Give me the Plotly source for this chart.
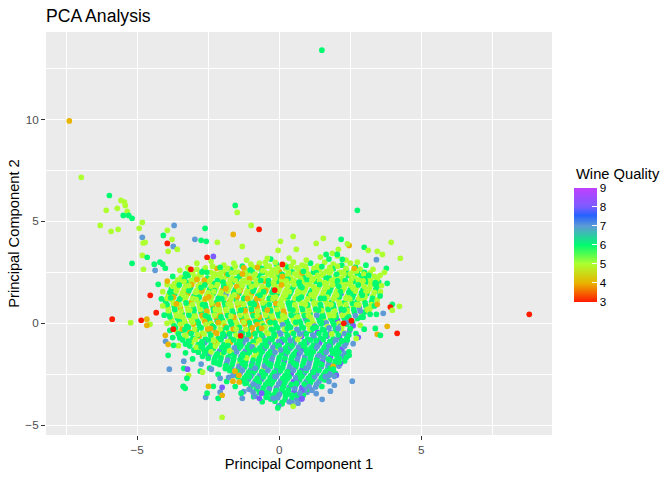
import plotly.graph_objects as go

# PCA scores: (PC1, PC2, quality)
# dense centre of the cloud, top rows first
core_upper = [
    (-1.95, 2.85, 5), (-1.6, 2.95, 5), (-1.3, 2.8, 6), (-1.0, 2.9, 5), (-0.7, 2.95, 5), (-0.45, 2.8, 5),
    (-0.1, 2.9, 6), (0.2, 2.85, 5), (0.5, 3.0, 5), (0.8, 2.85, 5), (1.1, 2.95, 6), (1.35, 2.8, 5),
    (1.6, 3.0, 5), (1.9, 2.9, 5), (2.2, 2.85, 6), (2.5, 2.95, 5),
    (-3.15, 2.55, 5), (-2.9, 2.65, 5), (-2.65, 2.6, 6), (-2.4, 2.5, 5), (-2.2, 2.7, 4), (-1.95, 2.55, 5),
    (-1.7, 2.65, 6), (-1.45, 2.5, 5), (-1.2, 2.62, 5), (-0.95, 2.55, 6), (-0.72, 2.68, 5), (-0.5, 2.5, 5),
    (-0.25, 2.6, 5), (0.0, 2.55, 4), (0.22, 2.68, 5), (0.45, 2.52, 6), (0.7, 2.6, 5), (0.95, 2.66, 5),
    (1.2, 2.5, 6), (1.42, 2.62, 5), (1.65, 2.55, 5), (1.9, 2.68, 6), (2.12, 2.5, 5), (2.35, 2.6, 6),
    (2.6, 2.55, 5), (2.85, 2.65, 5), (3.0, 2.5, 6),
    (-3.45, 2.25, 5), (-3.2, 2.35, 6), (-2.98, 2.28, 5), (-2.75, 2.38, 5), (-2.52, 2.22, 6), (-2.3, 2.32, 5),
    (-2.08, 2.25, 5), (-1.85, 2.36, 4), (-1.62, 2.22, 5), (-1.4, 2.3, 6), (-1.18, 2.38, 5), (-0.95, 2.25, 5),
    (-0.72, 2.32, 6), (-0.5, 2.2, 5), (-0.28, 2.36, 5), (-0.05, 2.25, 6), (0.18, 2.33, 5), (0.4, 2.22, 5),
    (0.62, 2.35, 5), (0.85, 2.26, 6), (1.08, 2.3, 5), (1.3, 2.2, 5), (1.52, 2.36, 5), (1.75, 2.25, 6),
    (1.98, 2.32, 5), (2.2, 2.22, 5), (2.42, 2.35, 6), (2.65, 2.25, 5), (2.88, 2.33, 6), (3.1, 2.22, 5),
    (3.35, 2.3, 5),
    (-3.68, 1.95, 5), (-3.45, 2.05, 5), (-3.22, 1.98, 6), (-3.0, 2.08, 5), (-2.78, 1.92, 5), (-2.55, 2.02, 4),
    (-2.32, 1.95, 6), (-2.1, 2.06, 5), (-1.88, 1.92, 5), (-1.65, 2.02, 6), (-1.42, 1.95, 5), (-1.2, 2.08, 5),
    (-0.98, 1.92, 6), (-0.75, 2.0, 5), (-0.52, 2.07, 4), (-0.3, 1.94, 5), (-0.08, 2.04, 6), (0.15, 1.93, 5),
    (0.38, 2.06, 5), (0.6, 1.95, 6), (0.82, 2.03, 5), (1.05, 1.92, 5), (1.28, 2.05, 6), (1.5, 1.96, 5),
    (1.72, 2.07, 5), (1.95, 1.93, 6), (2.18, 2.02, 5), (2.4, 1.94, 5), (2.62, 2.06, 6), (2.85, 1.95, 5),
    (3.08, 2.03, 6), (3.3, 1.93, 5), (3.5, 2.02, 6),
    (-3.8, 1.68, 6), (-3.58, 1.75, 5), (-3.35, 1.65, 5), (-3.12, 1.76, 6), (-2.9, 1.62, 5), (-2.68, 1.72, 5),
    (-2.45, 1.66, 6), (-2.22, 1.76, 5), (-2.0, 1.63, 4), (-1.78, 1.72, 5), (-1.55, 1.65, 6), (-1.32, 1.77, 5),
    (-1.1, 1.64, 5), (-0.88, 1.73, 6), (-0.65, 1.62, 5), (-0.42, 1.75, 5), (-0.2, 1.66, 6), (0.02, 1.74, 5),
    (0.25, 1.63, 5), (0.48, 1.76, 6), (0.7, 1.65, 5), (0.92, 1.72, 5), (1.15, 1.62, 6), (1.38, 1.75, 5),
    (1.6, 1.66, 5), (1.82, 1.74, 6), (2.05, 1.63, 5), (2.28, 1.73, 5), (2.5, 1.65, 6), (2.72, 1.76, 5),
    (2.95, 1.64, 6), (3.18, 1.72, 5), (3.4, 1.66, 6),
    (-3.9, 1.38, 5), (-3.68, 1.45, 6), (-3.45, 1.35, 5), (-3.22, 1.46, 4), (-3.0, 1.33, 6), (-2.78, 1.44, 5),
    (-2.55, 1.36, 5), (-2.32, 1.47, 6), (-2.1, 1.34, 5), (-1.88, 1.43, 7), (-1.65, 1.35, 5), (-1.42, 1.46, 6),
    (-1.2, 1.33, 5), (-0.98, 1.44, 4), (-0.75, 1.36, 6), (-0.52, 1.47, 5), (-0.3, 1.34, 5), (-0.08, 1.43, 6),
    (0.15, 1.35, 5), (0.38, 1.46, 6), (0.6, 1.33, 5), (0.82, 1.44, 5), (1.05, 1.36, 6), (1.28, 1.47, 5),
    (1.5, 1.34, 5), (1.72, 1.43, 6), (1.95, 1.35, 5), (2.18, 1.46, 7), (2.4, 1.33, 5), (2.62, 1.44, 6),
    (2.85, 1.36, 5), (3.08, 1.45, 6), (3.3, 1.35, 5),
    (-4.0, 1.08, 6), (-3.78, 1.15, 5), (-3.55, 1.05, 6), (-3.32, 1.16, 5), (-3.1, 1.03, 4), (-2.88, 1.14, 6),
    (-2.65, 1.06, 5), (-2.42, 1.17, 5), (-2.2, 1.04, 6), (-1.98, 1.13, 5), (-1.75, 1.05, 4), (-1.52, 1.16, 6),
    (-1.3, 1.03, 5), (-1.08, 1.14, 5), (-0.85, 1.06, 6), (-0.62, 1.17, 4), (-0.4, 1.04, 5), (-0.18, 1.13, 6),
    (0.05, 1.05, 5), (0.28, 1.16, 5), (0.5, 1.03, 6), (0.72, 1.14, 5), (0.95, 1.06, 5), (1.18, 1.17, 6),
    (1.4, 1.04, 5), (1.62, 1.13, 5), (1.85, 1.05, 6), (2.08, 1.16, 5), (2.3, 1.03, 6), (2.52, 1.14, 5),
    (2.75, 1.06, 6), (2.98, 1.15, 5), (3.25, 1.05, 6),
    (-3.92, 0.78, 5), (-3.7, 0.85, 6), (-3.48, 0.75, 4), (-3.25, 0.86, 5), (-3.02, 0.73, 6), (-2.8, 0.84, 5),
    (-2.58, 0.76, 6), (-2.35, 0.87, 4), (-2.12, 0.74, 5), (-1.9, 0.83, 6), (-1.68, 0.75, 5), (-1.45, 0.86, 4),
    (-1.22, 0.73, 6), (-1.0, 0.84, 5), (-0.78, 0.76, 4), (-0.55, 0.87, 6), (-0.32, 0.74, 5), (-0.1, 0.83, 6),
    (0.12, 0.75, 5), (0.35, 0.86, 6), (0.58, 0.73, 5), (0.8, 0.84, 6), (1.02, 0.76, 5), (1.25, 0.87, 5),
    (1.48, 0.74, 6), (1.7, 0.83, 5), (1.92, 0.75, 6), (2.15, 0.86, 5), (2.38, 0.73, 6), (2.6, 0.84, 5),
    (2.82, 0.76, 7), (3.05, 0.85, 6), (3.2, 0.74, 5),
    (-3.88, 0.48, 6), (-3.65, 0.55, 5), (-3.42, 0.45, 6), (-3.2, 0.56, 5), (-2.98, 0.43, 5), (-2.75, 0.54, 6),
    (-2.52, 0.46, 5), (-2.3, 0.57, 6), (-2.08, 0.44, 4), (-1.85, 0.53, 5), (-1.62, 0.45, 6), (-1.4, 0.56, 6),
    (-1.18, 0.43, 5), (-0.95, 0.54, 4), (-0.72, 0.46, 6), (-0.5, 0.57, 5), (-0.28, 0.44, 5), (-0.05, 0.53, 6),
    (0.18, 0.45, 4), (0.4, 0.56, 5), (0.62, 0.43, 6), (0.85, 0.54, 5), (1.08, 0.46, 6), (1.3, 0.57, 5),
    (1.52, 0.44, 6), (1.75, 0.53, 5), (1.98, 0.45, 6), (2.2, 0.56, 7), (2.42, 0.43, 5), (2.65, 0.54, 6),
    (2.9, 0.46, 5), (3.0, 0.55, 6),
    (-3.8, 0.18, 5), (-3.58, 0.25, 6), (-3.35, 0.15, 5), (-3.12, 0.26, 5), (-2.9, 0.13, 6), (-2.68, 0.24, 5),
    (-2.45, 0.16, 6), (-2.22, 0.27, 4), (-2.0, 0.14, 6), (-1.78, 0.23, 5), (-1.55, 0.15, 5), (-1.32, 0.26, 6),
    (-1.1, 0.13, 4), (-0.88, 0.24, 5), (-0.65, 0.16, 6), (-0.42, 0.27, 6), (-0.2, 0.14, 4), (0.02, 0.23, 5),
    (0.25, 0.15, 6), (0.48, 0.26, 5), (0.7, 0.13, 6), (0.92, 0.24, 7), (1.15, 0.16, 5), (1.38, 0.27, 6),
    (1.6, 0.14, 5), (1.82, 0.23, 6), (2.05, 0.15, 8), (2.28, 0.26, 6), (2.5, 0.13, 5), (2.75, 0.24, 6),
]

# second pass over the same area, between the rows above
core_upper_b = [
    (-2.6, 2.72, 5), (-2.35, 2.8, 5), (-2.08, 2.75, 6), (-1.82, 2.7, 5), (-1.55, 2.78, 5), (-1.25, 2.72, 4),
    (-0.95, 2.77, 5), (-0.62, 2.7, 6), (-0.35, 2.8, 5), (-0.05, 2.72, 5), (0.3, 2.76, 6), (0.62, 2.72, 5),
    (0.92, 2.8, 5), (1.22, 2.7, 5), (1.5, 2.78, 6), (1.78, 2.74, 5), (2.05, 2.8, 5), (2.35, 2.7, 5),
    (2.68, 2.76, 6),
    (-3.3, 2.42, 6), (-3.05, 2.48, 5), (-2.8, 2.4, 5), (-2.55, 2.5, 6), (-2.3, 2.43, 5), (-2.05, 2.47, 5),
    (-1.8, 2.4, 6), (-1.55, 2.5, 5), (-1.3, 2.42, 4), (-1.08, 2.48, 5), (-0.85, 2.41, 5), (-0.6, 2.49, 6),
    (-0.38, 2.42, 5), (-0.12, 2.48, 5), (0.1, 2.4, 6), (0.33, 2.5, 5), (0.55, 2.43, 5), (0.8, 2.47, 4),
    (1.02, 2.41, 5), (1.3, 2.49, 6), (1.55, 2.42, 5), (1.78, 2.48, 5), (2.02, 2.4, 6), (2.25, 2.5, 5),
    (2.5, 2.43, 5), (2.75, 2.47, 6), (2.98, 2.41, 5), (3.2, 2.48, 5),
    (-3.58, 2.12, 5), (-3.33, 2.18, 6), (-3.1, 2.1, 5), (-2.87, 2.2, 5), (-2.64, 2.12, 4), (-2.4, 2.18, 5),
    (-2.18, 2.1, 6), (-1.95, 2.2, 5), (-1.73, 2.12, 5), (-1.5, 2.17, 6), (-1.28, 2.1, 5), (-1.05, 2.19, 4),
    (-0.82, 2.12, 5), (-0.6, 2.18, 5), (-0.38, 2.1, 6), (-0.15, 2.2, 5), (0.08, 2.12, 5), (0.3, 2.18, 6),
    (0.52, 2.1, 5), (0.75, 2.19, 5), (0.98, 2.12, 6), (1.2, 2.18, 5), (1.42, 2.1, 5), (1.65, 2.2, 6),
    (1.88, 2.12, 5), (2.1, 2.17, 5), (2.32, 2.1, 6), (2.55, 2.19, 5), (2.78, 2.12, 5), (3.0, 2.18, 6),
    (3.22, 2.1, 5), (3.45, 2.17, 5),
    (-3.75, 1.82, 5), (-3.52, 1.88, 6), (-3.3, 1.8, 5), (-3.08, 1.9, 4), (-2.85, 1.82, 5), (-2.62, 1.88, 6),
    (-2.4, 1.8, 5), (-2.18, 1.9, 5), (-1.95, 1.82, 6), (-1.72, 1.88, 5), (-1.5, 1.8, 4), (-1.28, 1.9, 5),
    (-1.05, 1.82, 6), (-0.82, 1.88, 5), (-0.6, 1.8, 5), (-0.38, 1.9, 6), (-0.15, 1.82, 5), (0.08, 1.88, 4),
    (0.3, 1.8, 5), (0.52, 1.9, 5), (0.75, 1.82, 6), (0.98, 1.88, 5), (1.2, 1.8, 5), (1.42, 1.9, 6),
    (1.65, 1.82, 5), (1.88, 1.88, 5), (2.1, 1.8, 6), (2.32, 1.9, 5), (2.55, 1.82, 5), (2.78, 1.88, 6),
    (3.0, 1.8, 5), (3.22, 1.9, 5), (3.45, 1.82, 6),
    (-3.85, 1.52, 6), (-3.62, 1.58, 5), (-3.4, 1.5, 5), (-3.18, 1.6, 6), (-2.95, 1.52, 5), (-2.72, 1.58, 4),
    (-2.5, 1.5, 5), (-2.28, 1.6, 6), (-2.05, 1.52, 5), (-1.82, 1.58, 5), (-1.6, 1.5, 6), (-1.38, 1.6, 4),
    (-1.15, 1.52, 5), (-0.92, 1.58, 6), (-0.7, 1.5, 5), (-0.48, 1.6, 4), (-0.25, 1.52, 6), (-0.02, 1.58, 5),
    (0.2, 1.5, 5), (0.42, 1.6, 6), (0.65, 1.52, 5), (0.88, 1.58, 5), (1.1, 1.5, 6), (1.32, 1.6, 5),
    (1.55, 1.52, 5), (1.78, 1.58, 6), (2.0, 1.5, 5), (2.22, 1.6, 5), (2.45, 1.52, 6), (2.68, 1.58, 5),
    (2.9, 1.5, 6), (3.12, 1.6, 5), (3.35, 1.52, 5),
    (-3.95, 1.22, 5), (-3.72, 1.28, 4), (-3.5, 1.2, 6), (-3.28, 1.3, 5), (-3.05, 1.22, 5), (-2.82, 1.28, 6),
    (-2.6, 1.2, 4), (-2.38, 1.3, 5), (-2.15, 1.22, 6), (-1.92, 1.28, 5), (-1.7, 1.2, 5), (-1.48, 1.3, 4),
    (-1.25, 1.22, 6), (-1.02, 1.28, 5), (-0.8, 1.2, 4), (-0.58, 1.3, 5), (-0.35, 1.22, 6), (-0.12, 1.28, 5),
    (0.1, 1.2, 5), (0.32, 1.3, 6), (0.55, 1.22, 5), (0.78, 1.28, 6), (1.0, 1.2, 5), (1.22, 1.3, 5),
    (1.45, 1.22, 6), (1.68, 1.28, 5), (1.9, 1.2, 5), (2.12, 1.3, 6), (2.35, 1.22, 5), (2.58, 1.28, 6),
    (2.8, 1.2, 5), (3.02, 1.3, 5), (3.28, 1.22, 6),
    (-3.95, 0.92, 6), (-3.72, 0.98, 5), (-3.5, 0.9, 5), (-3.28, 1.0, 6), (-3.05, 0.92, 5), (-2.82, 0.98, 5),
    (-2.6, 0.9, 6), (-2.38, 1.0, 5), (-2.15, 0.92, 4), (-1.92, 0.98, 6), (-1.7, 0.9, 5), (-1.48, 1.0, 5),
    (-1.25, 0.92, 5), (-1.02, 0.98, 6), (-0.8, 0.9, 4), (-0.58, 1.0, 5), (-0.35, 0.92, 6), (-0.12, 0.98, 4),
    (0.1, 0.9, 5), (0.32, 1.0, 6), (0.55, 0.92, 5), (0.78, 0.98, 5), (1.0, 0.9, 6), (1.22, 1.0, 5),
    (1.45, 0.92, 6), (1.68, 0.98, 5), (1.9, 0.9, 6), (2.12, 1.0, 5), (2.35, 0.92, 5), (2.58, 0.98, 6),
    (2.8, 0.9, 5), (3.02, 1.0, 6), (3.25, 0.92, 5),
    (-3.9, 0.62, 5), (-3.68, 0.68, 6), (-3.45, 0.6, 5), (-3.22, 0.7, 5), (-3.0, 0.62, 6), (-2.78, 0.68, 5),
    (-2.55, 0.6, 4), (-2.32, 0.7, 6), (-2.1, 0.62, 5), (-1.88, 0.68, 5), (-1.65, 0.6, 6), (-1.42, 0.7, 5),
    (-1.2, 0.62, 4), (-0.98, 0.68, 6), (-0.75, 0.6, 5), (-0.52, 0.7, 6), (-0.3, 0.62, 6), (-0.08, 0.68, 5),
    (0.15, 0.6, 4), (0.38, 0.7, 6), (0.6, 0.62, 5), (0.82, 0.68, 6), (1.05, 0.6, 5), (1.28, 0.7, 6),
    (1.5, 0.62, 5), (1.72, 0.68, 6), (1.95, 0.6, 5), (2.18, 0.7, 6), (2.4, 0.62, 5), (2.62, 0.68, 6),
    (2.85, 0.6, 7), (3.1, 0.68, 5),
    (-3.85, 0.32, 6), (-3.62, 0.38, 5), (-3.4, 0.3, 5), (-3.18, 0.4, 6), (-2.95, 0.32, 5), (-2.72, 0.38, 4),
    (-2.5, 0.3, 6), (-2.28, 0.4, 5), (-2.05, 0.32, 6), (-1.82, 0.38, 6), (-1.6, 0.3, 4), (-1.38, 0.4, 5),
    (-1.15, 0.32, 5), (-0.92, 0.38, 6), (-0.7, 0.3, 4), (-0.48, 0.4, 5), (-0.25, 0.32, 5), (-0.02, 0.38, 6),
    (0.2, 0.3, 5), (0.42, 0.4, 6), (0.65, 0.32, 5), (0.88, 0.38, 6), (1.1, 0.3, 5), (1.32, 0.4, 7),
    (1.55, 0.32, 6), (1.78, 0.38, 5), (2.0, 0.3, 6), (2.22, 0.4, 5), (2.45, 0.32, 6), (2.68, 0.38, 7),
    (2.9, 0.3, 6),
    (-3.75, 0.02, 5), (-3.52, 0.08, 6), (-3.3, 0.0, 5), (-3.08, 0.1, 5), (-2.85, 0.02, 6), (-2.62, 0.08, 4),
    (-2.4, 0.0, 5), (-2.18, 0.1, 6), (-1.95, 0.02, 5), (-1.72, 0.08, 6), (-1.5, 0.0, 5), (-1.28, 0.1, 4),
    (-1.05, 0.02, 6), (-0.82, 0.08, 6), (-0.6, 0.0, 5), (-0.38, 0.1, 4), (-0.15, 0.02, 6), (0.08, 0.08, 5),
    (0.3, 0.0, 6), (0.52, 0.1, 5), (0.75, 0.02, 6), (0.98, 0.08, 6), (1.2, 0.0, 5), (1.42, 0.1, 6),
    (1.65, 0.02, 7), (1.88, 0.08, 6), (2.1, 0.0, 5), (2.32, 0.1, 6), (2.58, 0.02, 6),
]

core_lower = [
    (-3.7, -0.12, 6), (-3.48, -0.05, 5), (-3.25, -0.15, 6), (-3.02, -0.04, 4), (-2.8, -0.17, 6), (-2.58, -0.06, 5),
    (-2.35, -0.14, 6), (-2.12, -0.03, 5), (-1.9, -0.16, 4), (-1.68, -0.07, 6), (-1.45, -0.15, 5), (-1.22, -0.04, 4),
    (-1.0, -0.17, 6), (-0.78, -0.06, 4), (-0.55, -0.14, 6), (-0.32, -0.03, 5), (-0.1, -0.16, 6), (0.12, -0.07, 7),
    (0.35, -0.15, 6), (0.58, -0.04, 5), (0.8, -0.17, 6), (1.02, -0.06, 5), (1.25, -0.14, 7), (1.48, -0.03, 6),
    (1.7, -0.16, 5), (1.92, -0.07, 6), (2.15, -0.15, 7), (2.38, -0.04, 6), (2.6, -0.12, 8),
    (-3.6, -0.42, 5), (-3.38, -0.35, 6), (-3.15, -0.45, 4), (-2.92, -0.34, 6), (-2.7, -0.47, 5), (-2.48, -0.36, 6),
    (-2.25, -0.44, 4), (-2.02, -0.33, 6), (-1.8, -0.46, 5), (-1.58, -0.37, 6), (-1.35, -0.45, 7), (-1.12, -0.34, 6),
    (-0.9, -0.47, 4), (-0.68, -0.36, 6), (-0.45, -0.44, 5), (-0.22, -0.33, 6), (0.0, -0.46, 7), (0.22, -0.37, 6),
    (0.45, -0.45, 5), (0.68, -0.34, 6), (0.9, -0.47, 7), (1.12, -0.36, 6), (1.35, -0.44, 8), (1.58, -0.33, 6),
    (1.8, -0.46, 7), (2.02, -0.37, 6), (2.25, -0.45, 5), (2.48, -0.35, 7),
    (-3.5, -0.72, 6), (-3.28, -0.65, 5), (-3.05, -0.75, 6), (-2.82, -0.64, 4), (-2.6, -0.77, 6), (-2.38, -0.66, 5),
    (-2.15, -0.74, 6), (-1.92, -0.63, 7), (-1.7, -0.76, 6), (-1.48, -0.67, 5), (-1.25, -0.75, 6), (-1.02, -0.64, 4),
    (-0.8, -0.77, 6), (-0.58, -0.66, 7), (-0.35, -0.74, 6), (-0.12, -0.63, 5), (0.1, -0.76, 6), (0.32, -0.67, 7),
    (0.55, -0.75, 6), (0.78, -0.64, 8), (1.0, -0.77, 6), (1.22, -0.66, 7), (1.45, -0.74, 6), (1.68, -0.63, 7),
    (1.9, -0.76, 6), (2.12, -0.67, 8), (2.38, -0.72, 6),
    (-3.3, -1.02, 6), (-3.08, -0.95, 5), (-2.85, -1.05, 6), (-2.62, -0.94, 7), (-2.4, -1.07, 6), (-2.18, -0.96, 5),
    (-1.95, -1.04, 6), (-1.72, -0.93, 4), (-1.5, -1.06, 6), (-1.28, -0.97, 7), (-1.05, -1.05, 6), (-0.82, -0.94, 5),
    (-0.6, -1.07, 6), (-0.38, -0.96, 7), (-0.15, -1.04, 6), (0.08, -0.93, 8), (0.3, -1.06, 6), (0.52, -0.97, 7),
    (0.75, -1.05, 6), (0.98, -0.94, 7), (1.2, -1.07, 6), (1.42, -0.96, 8), (1.65, -1.04, 6), (1.88, -0.93, 7),
    (2.1, -1.06, 6), (2.35, -0.98, 7),
    (-3.0, -1.32, 6), (-2.78, -1.25, 5), (-2.55, -1.35, 6), (-2.32, -1.24, 6), (-2.1, -1.37, 7), (-1.88, -1.26, 6),
    (-1.65, -1.34, 5), (-1.42, -1.23, 6), (-1.2, -1.36, 7), (-0.98, -1.27, 6), (-0.75, -1.35, 6), (-0.52, -1.24, 7),
    (-0.3, -1.37, 6), (-0.08, -1.26, 5), (0.15, -1.34, 6), (0.38, -1.23, 7), (0.6, -1.36, 6), (0.82, -1.27, 8),
    (1.05, -1.35, 6), (1.28, -1.24, 7), (1.5, -1.37, 6), (1.72, -1.26, 7), (1.95, -1.34, 6), (2.2, -1.28, 8),
    (-2.7, -1.62, 6), (-2.48, -1.55, 7), (-2.25, -1.65, 6), (-2.02, -1.54, 5), (-1.8, -1.67, 6), (-1.58, -1.56, 6),
    (-1.35, -1.64, 7), (-1.12, -1.53, 6), (-0.9, -1.66, 5), (-0.68, -1.57, 6), (-0.45, -1.65, 7), (-0.22, -1.54, 6),
    (0.0, -1.67, 6), (0.22, -1.56, 7), (0.45, -1.64, 6), (0.68, -1.53, 8), (0.9, -1.66, 7), (1.12, -1.57, 6),
    (1.35, -1.65, 7), (1.58, -1.54, 6), (1.8, -1.67, 8), (2.02, -1.56, 6), (2.2, -1.63, 7),
    (-2.3, -1.92, 6), (-2.08, -1.85, 6), (-1.85, -1.95, 7), (-1.62, -1.84, 6), (-1.4, -1.97, 5), (-1.18, -1.86, 6),
    (-0.95, -1.94, 7), (-0.72, -1.83, 6), (-0.5, -1.96, 6), (-0.28, -1.87, 7), (-0.05, -1.95, 6), (0.18, -1.84, 8),
    (0.4, -1.97, 6), (0.62, -1.86, 7), (0.85, -1.94, 6), (1.08, -1.83, 7), (1.3, -1.96, 6), (1.52, -1.87, 8),
    (1.75, -1.95, 7), (1.98, -1.85, 6),
    (-1.9, -2.22, 6), (-1.68, -2.15, 7), (-1.45, -2.25, 6), (-1.22, -2.14, 6), (-1.0, -2.27, 7), (-0.78, -2.16, 6),
    (-0.55, -2.24, 5), (-0.32, -2.13, 6), (-0.1, -2.26, 7), (0.12, -2.17, 6), (0.35, -2.25, 7), (0.58, -2.14, 6),
    (0.8, -2.27, 8), (1.02, -2.16, 7), (1.25, -2.24, 6), (1.48, -2.13, 7), (1.7, -2.26, 6), (1.9, -2.18, 7),
    (-1.6, -2.52, 6), (-1.38, -2.45, 7), (-1.15, -2.55, 6), (-0.92, -2.44, 6), (-0.7, -2.57, 7), (-0.48, -2.46, 6),
    (-0.25, -2.54, 6), (-0.02, -2.43, 7), (0.2, -2.56, 6), (0.42, -2.47, 8), (0.65, -2.55, 6), (0.88, -2.44, 7),
    (1.1, -2.57, 6), (1.32, -2.46, 7), (1.55, -2.54, 6), (1.78, -2.48, 7),
    (-1.3, -2.82, 6), (-1.08, -2.75, 7), (-0.85, -2.85, 6), (-0.62, -2.74, 7), (-0.4, -2.87, 6), (-0.18, -2.76, 6),
    (0.05, -2.84, 7), (0.28, -2.73, 6), (0.5, -2.86, 8), (0.72, -2.77, 6), (0.95, -2.85, 7), (1.18, -2.74, 6),
    (1.4, -2.86, 7), (1.6, -2.78, 6),
    (-1.0, -3.12, 6), (-0.78, -3.05, 7), (-0.55, -3.15, 6), (-0.32, -3.04, 6), (-0.1, -3.17, 7), (0.12, -3.06, 6),
    (0.35, -3.14, 7), (0.58, -3.03, 6), (0.8, -3.16, 8), (1.02, -3.07, 6), (1.28, -3.12, 7),
    (-0.6, -3.42, 7), (-0.38, -3.35, 6), (-0.15, -3.45, 6), (0.08, -3.34, 7), (0.3, -3.47, 6), (0.52, -3.36, 8),
    (0.75, -3.44, 6), (0.98, -3.38, 7),
    (-0.3, -3.72, 6), (-0.05, -3.65, 7), (0.2, -3.75, 6), (0.45, -3.68, 6), (0.62, -3.74, 7),
]

core_lower_b = [
    (-3.65, -0.22, 6), (-3.42, -0.28, 4), (-3.2, -0.2, 6), (-2.98, -0.3, 5), (-2.75, -0.22, 6), (-2.52, -0.28, 4),
    (-2.3, -0.2, 6), (-2.08, -0.3, 5), (-1.85, -0.22, 6), (-1.62, -0.28, 4), (-1.4, -0.2, 6), (-1.18, -0.3, 5),
    (-0.95, -0.22, 4), (-0.72, -0.28, 6), (-0.5, -0.2, 5), (-0.28, -0.3, 6), (-0.05, -0.22, 6), (0.18, -0.28, 5),
    (0.4, -0.2, 6), (0.62, -0.3, 7), (0.85, -0.22, 6), (1.08, -0.28, 5), (1.3, -0.2, 6), (1.52, -0.3, 6),
    (1.75, -0.22, 7), (1.98, -0.28, 6), (2.2, -0.2, 5), (2.5, -0.26, 6),
    (-3.55, -0.52, 6), (-3.32, -0.58, 5), (-3.1, -0.5, 6), (-2.88, -0.6, 6), (-2.65, -0.52, 5), (-2.42, -0.58, 6),
    (-2.2, -0.5, 4), (-1.98, -0.6, 6), (-1.75, -0.52, 6), (-1.52, -0.58, 5), (-1.3, -0.5, 6), (-1.08, -0.6, 4),
    (-0.85, -0.52, 6), (-0.62, -0.58, 6), (-0.4, -0.5, 5), (-0.18, -0.6, 6), (0.05, -0.52, 7), (0.28, -0.58, 6),
    (0.5, -0.5, 6), (0.72, -0.6, 5), (0.95, -0.52, 6), (1.18, -0.58, 7), (1.4, -0.5, 6), (1.62, -0.6, 6),
    (1.85, -0.52, 5), (2.08, -0.58, 6), (2.3, -0.5, 7), (2.45, -0.58, 6),
    (-3.4, -0.82, 6), (-3.18, -0.88, 6), (-2.95, -0.8, 5), (-2.72, -0.9, 6), (-2.5, -0.82, 6), (-2.28, -0.88, 4),
    (-2.05, -0.8, 6), (-1.82, -0.9, 5), (-1.6, -0.82, 6), (-1.38, -0.88, 6), (-1.15, -0.8, 7), (-0.92, -0.9, 6),
    (-0.7, -0.82, 5), (-0.48, -0.88, 6), (-0.25, -0.8, 6), (-0.02, -0.9, 7), (0.2, -0.82, 6), (0.42, -0.88, 6),
    (0.65, -0.8, 5), (0.88, -0.9, 6), (1.1, -0.82, 6), (1.32, -0.88, 7), (1.55, -0.8, 6), (1.78, -0.9, 6),
    (2.0, -0.82, 7), (2.22, -0.88, 6), (2.4, -0.82, 6),
    (-3.15, -1.12, 6), (-2.92, -1.18, 5), (-2.7, -1.1, 6), (-2.48, -1.2, 6), (-2.25, -1.12, 5), (-2.02, -1.18, 6),
    (-1.8, -1.1, 6), (-1.58, -1.2, 7), (-1.35, -1.12, 6), (-1.12, -1.18, 6), (-0.9, -1.1, 5), (-0.68, -1.2, 6),
    (-0.45, -1.12, 6), (-0.22, -1.18, 7), (0.0, -1.1, 6), (0.22, -1.2, 6), (0.45, -1.12, 6), (0.68, -1.18, 7),
    (0.9, -1.1, 6), (1.12, -1.2, 6), (1.35, -1.12, 7), (1.58, -1.18, 6), (1.8, -1.1, 6), (2.02, -1.2, 6),
    (2.3, -1.12, 7),
    (-2.85, -1.42, 6), (-2.62, -1.48, 6), (-2.4, -1.4, 5), (-2.18, -1.5, 6), (-1.95, -1.42, 6), (-1.72, -1.48, 6),
    (-1.5, -1.4, 7), (-1.28, -1.5, 6), (-1.05, -1.42, 6), (-0.82, -1.48, 5), (-0.6, -1.4, 6), (-0.38, -1.5, 6),
    (-0.15, -1.42, 7), (0.08, -1.48, 6), (0.3, -1.4, 6), (0.52, -1.5, 6), (0.75, -1.42, 7), (0.98, -1.48, 6),
    (1.2, -1.4, 6), (1.42, -1.5, 6), (1.65, -1.42, 7), (1.88, -1.48, 6), (2.1, -1.4, 6), (2.3, -1.48, 7),
    (-2.5, -1.72, 6), (-2.28, -1.78, 6), (-2.05, -1.7, 6), (-1.82, -1.8, 7), (-1.6, -1.72, 6), (-1.38, -1.78, 6),
    (-1.15, -1.7, 5), (-0.92, -1.8, 6), (-0.7, -1.72, 6), (-0.48, -1.78, 6), (-0.25, -1.7, 7), (-0.02, -1.8, 6),
    (0.2, -1.72, 6), (0.42, -1.78, 6), (0.65, -1.7, 7), (0.88, -1.8, 6), (1.1, -1.72, 6), (1.32, -1.78, 6),
    (1.55, -1.7, 7), (1.78, -1.8, 6), (2.05, -1.72, 6),
    (-2.1, -2.02, 6), (-1.88, -2.08, 6), (-1.65, -2.0, 6), (-1.42, -2.1, 7), (-1.2, -2.02, 6), (-0.98, -2.08, 6),
    (-0.75, -2.0, 6), (-0.52, -2.1, 7), (-0.3, -2.02, 6), (-0.08, -2.08, 6), (0.15, -2.0, 6), (0.38, -2.1, 7),
    (0.6, -2.02, 6), (0.82, -2.08, 6), (1.05, -2.0, 7), (1.28, -2.1, 6), (1.5, -2.02, 6), (1.72, -2.08, 7),
    (1.95, -2.02, 6),
    (-1.75, -2.32, 6), (-1.52, -2.38, 6), (-1.3, -2.3, 7), (-1.08, -2.4, 6), (-0.85, -2.32, 6), (-0.62, -2.38, 6),
    (-0.4, -2.3, 7), (-0.18, -2.4, 6), (0.05, -2.32, 6), (0.28, -2.38, 6), (0.5, -2.3, 7), (0.72, -2.4, 6),
    (0.95, -2.32, 6), (1.18, -2.38, 7), (1.4, -2.3, 6), (1.62, -2.4, 6), (1.85, -2.34, 7),
    (-1.45, -2.62, 6), (-1.22, -2.68, 6), (-1.0, -2.6, 7), (-0.78, -2.7, 6), (-0.55, -2.62, 6), (-0.32, -2.68, 6),
    (-0.1, -2.6, 7), (0.12, -2.7, 6), (0.35, -2.62, 6), (0.58, -2.68, 7), (0.8, -2.6, 6), (1.02, -2.7, 6),
    (1.25, -2.62, 7), (1.48, -2.68, 6), (1.7, -2.62, 6),
    (-1.15, -2.92, 6), (-0.92, -2.98, 7), (-0.7, -2.9, 6), (-0.48, -3.0, 6), (-0.25, -2.92, 6), (-0.02, -2.98, 7),
    (0.2, -2.9, 6), (0.42, -3.0, 6), (0.65, -2.92, 7), (0.88, -2.98, 6), (1.1, -2.9, 6), (1.32, -2.98, 7),
    (-0.8, -3.22, 6), (-0.58, -3.28, 6), (-0.35, -3.2, 7), (-0.12, -3.3, 6), (0.1, -3.22, 6), (0.32, -3.28, 6),
    (0.55, -3.2, 7), (0.78, -3.3, 6), (1.0, -3.22, 6), (1.15, -3.28, 7),
    (-0.45, -3.52, 6), (-0.22, -3.58, 6), (0.0, -3.5, 7), (0.22, -3.6, 6), (0.45, -3.52, 6), (0.68, -3.58, 7),
    (0.85, -3.52, 6),
    (-0.15, -3.82, 6), (0.1, -3.88, 6), (0.35, -3.85, 7),
]

# ragged rim of the cloud and points filling the gaps left by the rows
core_fill = [
    (-2.9, 2.95, 5), (-2.4, 3.05, 5), (-1.15, 3.1, 5), (-0.3, 3.15, 6), (0.35, 3.2, 5), (0.95, 3.1, 5),
    (1.45, 3.25, 5), (1.75, 3.15, 6), (2.05, 3.3, 5), (2.35, 3.1, 5), (2.75, 3.0, 5), (3.05, 2.85, 6),
    (3.3, 2.65, 5), (3.55, 2.35, 5), (-3.5, 2.6, 5), (-3.75, 2.3, 6), (-3.95, 1.9, 5), (-4.1, 1.55, 5),
    (-4.15, 1.2, 6), (-4.1, 0.85, 5), (-4.05, 0.4, 6), (-3.95, 0.0, 5), (-3.85, -0.35, 6), (-3.75, -0.7, 6),
    (-3.55, -1.1, 5), (-3.3, -1.45, 6), (-3.05, -1.75, 6), (-2.75, -2.0, 7), (-2.45, -2.2, 6), (-2.15, -2.5, 6),
    (-1.85, -2.85, 6), (-1.55, -3.1, 6), (-1.25, -3.35, 7), (-0.9, -3.6, 6), (-0.6, -3.85, 6), (1.3, -3.45, 7),
    (1.5, -3.1, 6), (1.75, -2.85, 7), (1.98, -2.45, 6), (2.1, -2.1, 7), (2.3, -1.85, 6), (2.45, -1.4, 6),
    (2.6, -1.0, 7), (2.7, -0.5, 6), (2.85, -0.1, 5), (2.95, 0.3, 6), (3.15, 0.6, 5), (3.35, 0.85, 6),
    (3.45, 1.15, 5), (3.55, 1.5, 6), (3.6, 1.85, 5),
    (-3.22, 2.72, 5), (-2.72, 2.52, 6), (-2.22, 2.4, 5), (-1.68, 2.48, 5), (-1.02, 2.62, 6), (-0.58, 2.58, 5),
    (-0.15, 2.62, 5), (0.32, 2.42, 5), (0.85, 2.55, 6), (1.35, 2.35, 5), (1.82, 2.58, 5), (2.28, 2.42, 5),
    (2.72, 2.57, 5), (3.15, 2.35, 6), (-3.35, 2.05, 5), (-2.9, 2.15, 4), (-2.45, 2.08, 5), (-1.98, 2.02, 6),
    (-1.55, 2.1, 5), (-1.08, 2.0, 5), (-0.65, 2.1, 6), (-0.2, 2.0, 5), (0.25, 2.08, 5), (0.7, 2.02, 6),
    (1.15, 2.1, 5), (1.6, 2.0, 5), (2.05, 2.08, 6), (2.5, 2.0, 5), (2.95, 2.08, 5), (3.38, 2.0, 6),
    (-3.62, 1.6, 5), (-3.18, 1.85, 5), (-2.75, 1.75, 6), (-2.3, 1.55, 5), (-1.88, 1.7, 4), (-1.42, 1.6, 5),
    (-0.98, 1.8, 5), (-0.55, 1.55, 6), (-0.12, 1.72, 5), (0.35, 1.55, 5), (0.8, 1.75, 6), (1.25, 1.58, 5),
    (1.7, 1.78, 5), (2.15, 1.55, 6), (2.6, 1.72, 5), (3.05, 1.55, 5), (-3.82, 1.25, 6), (-3.38, 1.4, 5),
    (-2.92, 1.18, 5), (-2.48, 1.3, 4), (-2.02, 1.2, 6), (-1.58, 1.4, 5), (-1.12, 1.22, 4), (-0.68, 1.38, 6),
    (-0.22, 1.2, 5), (0.22, 1.38, 5), (0.68, 1.2, 6), (1.12, 1.4, 5), (1.58, 1.22, 6), (2.02, 1.38, 5),
    (2.48, 1.2, 5), (2.92, 1.38, 6),
    (-3.62, 0.95, 4), (-3.15, 0.65, 5), (-2.7, 0.92, 6), (-2.25, 0.68, 5), (-1.8, 0.95, 5), (-1.35, 0.65, 6),
    (-0.88, 0.92, 6), (-0.42, 0.65, 4), (0.02, 0.92, 5), (0.48, 0.65, 6), (0.92, 0.92, 5), (1.38, 0.65, 6),
    (1.82, 0.92, 5), (2.28, 0.65, 6), (2.72, 0.92, 5), (-3.5, 0.35, 5), (-3.05, 0.05, 5), (-2.6, 0.38, 6),
    (-2.15, 0.05, 4), (-1.7, 0.35, 5), (-1.25, 0.05, 5), (-0.78, 0.38, 5), (-0.32, 0.05, 6), (0.12, 0.38, 5),
    (0.58, 0.05, 6), (1.02, 0.38, 5), (1.48, 0.05, 6), (1.92, 0.38, 5), (2.38, 0.05, 7),
    (-3.32, -0.3, 6), (-2.88, -0.55, 5), (-2.42, -0.25, 4), (-1.98, -0.52, 6), (-1.52, -0.28, 5), (-1.08, -0.55, 6),
    (-0.62, -0.25, 4), (-0.18, -0.52, 6), (0.28, -0.25, 6), (0.72, -0.52, 7), (1.18, -0.25, 6), (1.62, -0.52, 6),
    (2.08, -0.25, 7), (-3.2, -0.88, 6), (-2.75, -1.15, 6), (-2.3, -0.85, 5), (-1.85, -1.12, 6), (-1.4, -0.88, 6),
    (-0.95, -1.15, 7), (-0.5, -0.85, 6), (-0.05, -1.12, 6), (0.4, -0.85, 7), (0.85, -1.12, 6), (1.3, -0.85, 6),
    (1.75, -1.12, 7), (2.2, -0.85, 6),
    (-2.65, -1.3, 6), (-2.2, -1.55, 6), (-1.75, -1.35, 5), (-1.3, -1.6, 6), (-0.85, -1.32, 6), (-0.4, -1.58, 6),
    (0.05, -1.3, 7), (0.5, -1.58, 6), (0.95, -1.32, 6), (1.4, -1.58, 7), (1.85, -1.32, 6), (-2.2, -1.95, 6),
    (-1.75, -2.2, 6), (-1.3, -1.95, 6), (-0.85, -2.2, 7), (-0.4, -1.95, 6), (0.05, -2.2, 6), (0.5, -1.95, 6),
    (0.95, -2.2, 7), (1.4, -1.95, 6), (1.8, -2.2, 6),
    (-1.5, -2.4, 6), (-1.05, -2.62, 6), (-0.6, -2.4, 6), (-0.15, -2.62, 7), (0.3, -2.4, 6), (0.75, -2.62, 6),
    (1.2, -2.4, 6), (1.62, -2.62, 7), (-1.2, -2.95, 6), (-0.75, -3.1, 7), (-0.3, -2.95, 6), (0.15, -3.1, 6),
    (0.6, -2.95, 6), (1.05, -3.1, 7), (-0.7, -3.4, 6), (-0.25, -3.55, 6), (0.2, -3.4, 6), (0.62, -3.52, 6),
    (0.9, -3.25, 7), (0.1, -3.95, 6), (0.45, -3.9, 7),
]

# scattered points around the cloud
outer_left = [
    (-7.39, 9.93, 4), (-6.97, 7.16, 5), (-5.98, 6.27, 6), (-5.57, 6.03, 5), (-5.45, 5.95, 5), (-5.42, 5.78, 5),
    (-6.09, 5.54, 5), (-5.70, 5.64, 5), (-5.35, 5.49, 5), (-5.49, 5.29, 6), (-5.30, 5.29, 6), (-5.18, 5.15, 6),
    (-4.82, 4.95, 5), (-6.30, 4.80, 5), (-5.92, 4.51, 5), (-5.67, 4.61, 5), (-4.93, 4.66, 5), (-3.70, 4.80, 7),
    (-4.82, 4.22, 7), (-4.79, 3.94, 5), (-4.72, 3.97, 5), (-3.94, 4.56, 5), (-4.08, 4.31, 6), (-3.77, 4.12, 5),
    (-3.94, 3.92, 3), (-3.73, 3.77, 7), (-4.82, 3.33, 5), (-4.65, 3.24, 6), (-5.18, 2.94, 6), (-4.78, 2.65, 5),
    (-4.37, 2.60, 7), (-4.40, 2.90, 6), (-4.20, 3.00, 6), (-4.10, 2.90, 6), (-4.01, 2.70, 6), (-4.26, 1.91, 6),
    (-4.54, 1.37, 3), (-3.94, 2.07, 4), (-1.55, 5.78, 6), (-1.48, 5.44, 5), (-1.62, 4.36, 4), (-1.30, 3.77, 5),
    (-0.99, 4.80, 5), (-0.71, 4.61, 3), (-2.61, 4.66, 6), (-2.97, 4.12, 7), (-2.75, 4.07, 6), (-2.57, 4.02, 6),
    (-2.18, 3.97, 5), (-2.54, 3.24, 3), (-2.32, 3.28, 8), (-3.59, 3.63, 5), (-3.91, 3.53, 5), (-3.11, 2.65, 3),
    (-5.88, 0.20, 3), (-5.23, 0.03, 5), (-4.86, 0.15, 3), (-4.66, 0.20, 4), (-4.55, -0.05, 5), (-4.66, -0.10, 4),
    (-4.33, 0.52, 3), (-3.73, -0.29, 3), (-4.01, -0.59, 4), (-4.00, -0.88, 7), (-3.91, -1.03, 4), (-3.72, -1.08, 6),
    (-3.91, -1.57, 6), (-3.87, -2.25, 7), (-3.36, -1.86, 7), (-3.36, -2.21, 6), (-3.23, -2.25, 8), (-3.19, -2.55, 5),
    (-3.25, -2.70, 6), (-3.38, -3.09, 6), (-3.31, -3.19, 6), (-2.59, -3.63, 7), (-2.54, -3.43, 6), (-2.15, -3.68, 6),
    (-2.08, -3.38, 7), (-2.01, -3.14, 8), (-2.01, -3.53, 4), (-2.32, -3.09, 6), (-2.49, -3.09, 4), (-2.01, -4.61, 5),
    (-2.78, -2.35, 6), (-2.70, -2.40, 5), (-2.39, -2.25, 7), (-2.08, -2.70, 7), (-1.78, -2.65, 7), (-1.63, -2.55, 7),
    (-1.56, -2.35, 4), (-1.42, -2.55, 4), (-1.41, -2.88, 4), (-1.63, -2.84, 4), (-1.34, -3.43, 6), (-1.30, -3.68, 7),
    (-1.06, -3.24, 7), (-0.92, -3.38, 7), (-0.85, -3.58, 7), (-0.70, -3.68, 8), (-0.46, -3.63, 6), (-0.42, -3.43, 6),
    (-0.21, -3.68, 7), (-0.07, -3.63, 7), (-0.02, -4.05, 7), (-0.05, -4.15, 6), (-0.62, -3.43, 8), (-3.37, -3.11, 6),
    (-0.16, 1.63, 3), (-1.36, -0.61, 3),
]

outer_right = [
    (1.50, 13.40, 6), (2.75, 5.54, 6), (0.49, 4.26, 5), (1.55, 4.17, 5), (0.04, 4.02, 5), (0.60, 3.63, 5),
    (-0.04, 3.58, 5), (1.30, 3.92, 5), (2.18, 4.12, 6), (2.46, 3.82, 4), (2.08, 3.63, 5), (2.40, 3.90, 5),
    (3.94, 3.97, 5), (4.26, 3.19, 5), (2.99, 3.73, 6), (3.13, 3.58, 5), (3.45, 3.53, 5), (3.63, 3.38, 5),
    (3.42, 3.12, 7), (0.11, 2.89, 3), (-0.42, 3.19, 5), (-0.49, 2.99, 5), (-0.14, 2.99, 5), (0.42, 2.79, 5),
    (-0.77, 2.75, 4), (0.11, 2.30, 4), (3.77, 2.70, 6), (3.70, 2.50, 5), (3.80, 1.96, 6), (3.38, 1.91, 6),
    (3.56, 1.55, 5), (3.55, 1.34, 6), (1.65, 3.38, 6), (1.87, 3.43, 5), (2.04, 3.38, 6), (2.22, 3.14, 6),
    (2.64, 2.70, 4),
    (8.80, 0.44, 3), (3.98, 0.93, 6), (4.23, 0.83, 5), (3.91, 0.80, 3), (3.45, 0.93, 4), (3.20, 0.44, 6),
    (3.42, 0.44, 6), (3.66, 0.49, 7), (3.98, 0.64, 5), (3.80, -0.15, 4), (4.15, -0.49, 3), (3.38, -0.25, 6),
    (3.45, -0.54, 4), (3.56, -0.59, 6), (2.99, -0.29, 6), (2.78, -0.69, 8), (2.71, -0.74, 5), (2.57, -2.84, 7),
    (1.94, -3.04, 7), (1.80, -3.33, 7), (1.51, -3.73, 7), (2.01, -2.55, 8), (1.94, -2.60, 7), (1.90, -2.11, 4),
    (1.90, -2.25, 6), (2.15, -1.96, 8), (2.11, -1.72, 6), (2.11, -1.91, 6), (2.36, -1.67, 6), (2.46, -1.57, 6),
    (1.73, -1.76, 6), (1.76, -2.55, 7), (0.79, -3.71, 8), (0.79, -3.30, 8), (2.54, 0.13, 3), (2.27, 0.00, 3),
    (0.49, -4.07, 5), (0.66, -3.92, 7), (0.80, -3.69, 8), (0.73, -3.43, 7),
]

points = core_upper + core_upper_b + core_lower + core_lower_b + core_fill + outer_left + outer_right
pc1 = [p[0] for p in points]
pc2 = [p[1] for p in points]
quality = [p[2] for p in points]

# red -> orange -> greenyellow -> springgreen -> steelblue -> blue/purple
wine_scale = [
    [0.0, "#FF1A00"],
    [1 / 6, "#E9B400"],
    [2 / 6, "#ADFF2F"],
    [3 / 6, "#00FA70"],
    [4 / 6, "#5D9AD6"],
    [0.76, "#2562FF"],
    [5 / 6, "#7A5CFF"],
    [1.0, "#C040FF"],
]

font_family = "Liberation Sans, Arial, sans-serif"

fig = go.Figure(
    go.Scatter(
        x=pc1,
        y=pc2,
        mode="markers",
        marker=dict(
            size=5.7,
            color=quality,
            colorscale=wine_scale,
            cmin=3,
            cmax=9,
            line=dict(width=0),
            colorbar=dict(
                tickvals=[3, 4, 5, 6, 7, 8, 9],
                tickprefix=" ",
                ticks="inside",
                ticklen=5,
                tickcolor="white",
                tickwidth=1,
                tickfont=dict(size=11.7, color="black", family=font_family),
                thickness=23,
                lenmode="pixels",
                len=114,
                x=1.0435,
                xanchor="left",
                xpad=0,
                y=0.472,
                yanchor="middle",
                ypad=0,
                outlinewidth=0,
            ),
        ),
        showlegend=False,
    )
)

fig.update_layout(
    width=672,
    height=480,
    margin=dict(l=46, r=120, t=32, b=45),
    paper_bgcolor="white",
    plot_bgcolor="#EBEBEB",
    font=dict(family=font_family, color="black"),
    title=dict(
        text="PCA Analysis",
        x=0, xref="paper", xanchor="left",
        y=1 - 16 / 480, yref="container", yanchor="middle",
        font=dict(size=17.6, color="black", family=font_family),
    ),
    annotations=[
        dict(
            text="Wine Quality",
            x=1.0435, xref="paper", xanchor="left",
            y=0.6476, yref="paper", yanchor="middle",
            showarrow=False,
            font=dict(size=14.7, color="black", family=font_family),
        )
    ],
)

axis_style = dict(
    showgrid=True,
    gridcolor="white",
    gridwidth=1.1,
    zeroline=False,
    showline=False,
    ticks="outside",
    ticklen=4,
    tickcolor="#333333",
    tickwidth=1,
    tickfont=dict(size=11.7, color="#4D4D4D", family=font_family),
    automargin=False,
)

fig.update_xaxes(
    range=[-8.21, 9.60],
    tickvals=[-5, 0, 5],
    minor=dict(tickvals=[-7.5, -2.5, 2.5, 7.5], showgrid=True, gridcolor="white", gridwidth=0.55, ticks=""),
    title=dict(text="Principal Component 1", font=dict(size=14.7, color="black"), standoff=3),
    **axis_style,
)
fig.update_yaxes(
    range=[-5.48, 14.29],
    tickvals=[-5, 0, 5, 10],
    minor=dict(tickvals=[-2.5, 2.5, 7.5, 12.5], showgrid=True, gridcolor="white", gridwidth=0.55, ticks=""),
    title=dict(text="Principal Component 2", font=dict(size=14.7, color="black"), standoff=2),
    **axis_style,
)

# page has a default 8px body margin; drop it so the figure sits at the corner
fig.write_html(
    "out.html",
    config={"displayModeBar": False},
    post_script="document.body.style.margin = '0px';",
)
